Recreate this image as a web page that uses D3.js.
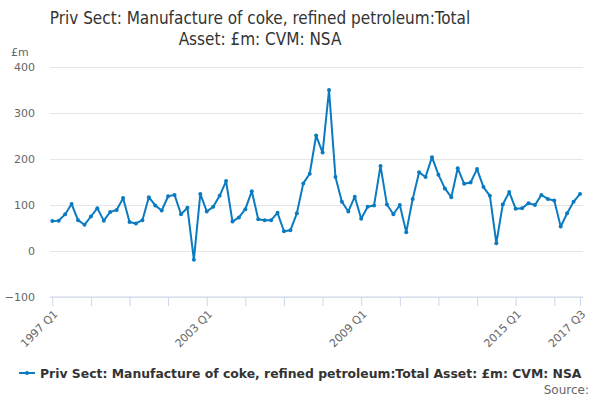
<!DOCTYPE html>
<html>
<head>
<meta charset="utf-8">
<script src="https://cdn.jsdelivr.net/npm/d3@7"></script>
<style>
  body { margin: 0; background: #fff; }
  svg { font-family: "DejaVu Sans", sans-serif; }
</style>
</head>
<body>
<svg id="chart" width="600" height="400"></svg>
<script>
const titleLines = ["Priv Sect: Manufacture of coke, refined petroleum:Total", "Asset: £m: CVM: NSA"];
const seriesName = "Priv Sect: Manufacture of coke, refined petroleum:Total Asset: £m: CVM: NSA";
const yTicks = [-100, 0, 100, 200, 300, 400];
const labelQuarters = ["1997 Q1", "2003 Q1", "2009 Q1", "2015 Q1", "2017 Q3"];

// quarterly values, 1997 Q1 .. 2017 Q3
const values = [
  65, 66, 80, 102, 67, 57, 75, 93, 66, 85, 89, 115,
  63, 60, 67, 117, 99, 88, 119, 122, 80, 94, -19, 124,
  86, 96, 120, 152, 64, 73, 91, 130, 69, 67, 67, 83,
  43, 45, 82, 147, 168, 251, 214, 350, 161, 107, 86, 118,
  70, 96, 99, 185, 101, 80, 100, 41, 113, 171, 161, 204,
  166, 136, 117, 180, 146, 149, 178, 139, 120, 17, 101, 128,
  92, 93, 104, 100, 122, 113, 110, 53, 82, 107, 124
];

const quarters = values.map((v, i) => (1997 + Math.floor(i / 4)) + " Q" + (i % 4 + 1));
const data = quarters.map((q, i) => ({ key: q, value: values[i] }));

const svg = d3.select("#chart");
const left = 50, right = 583;

const x = d3.scalePoint()
  .domain(quarters)
  .range([52.3, 580]);

const y = d3.scaleLinear()
  .domain([-100, 400])
  .range([297, 67]);

// title
svg.append("text")
  .attr("text-anchor", "middle")
  .attr("fill", "#333")
  .style("font-family", "'DejaVu Sans Condensed', 'DejaVu Sans', sans-serif")
  .style("font-size", "17px")
  .selectAll("tspan")
  .data(titleLines)
  .enter().append("tspan")
  .attr("x", 260)
  .attr("y", (d, i) => 24 + i * 21)
  .text(d => d);

// unit label
svg.append("text")
  .attr("x", 11)
  .attr("y", 56)
  .attr("fill", "#666")
  .style("font-size", "11px")
  .text("£m");

// grid + y labels
let yAxis = svg.append("g")
  .attr("transform", "translate(" + left + ",0)")
  .call(d3.axisLeft(y).tickValues(yTicks).tickSize(-(right - left)).tickPadding(15));
yAxis.select(".domain").remove();
yAxis.selectAll(".tick line").attr("stroke", "#e6e6e6");
yAxis.selectAll(".tick text")
  .attr("fill", "#666")
  .style("font-size", "11px")
  .style("font-family", "DejaVu Sans, sans-serif");

// x axis
const tickQuarters = quarters.filter((q, i) => i % 6 === 0 || i === quarters.length - 1);
let xAxis = svg.append("g")
  .attr("transform", "translate(0," + y(-100) + ")")
  .call(d3.axisBottom(x).tickValues(tickQuarters).tickSize(9)
    .tickFormat(d => labelQuarters.includes(d) ? d : ""));
xAxis.select(".domain")
  .attr("d", "M" + left + ",0H" + right)
  .attr("stroke", "#ccd6eb");
xAxis.selectAll(".tick line").attr("stroke", "#ccd6eb");
xAxis.selectAll(".tick text")
  .attr("fill", "#666")
  .style("font-size", "11px")
  .style("font-family", "DejaVu Sans, sans-serif")
  .attr("text-anchor", "end")
  .attr("x", 0)
  .attr("y", 0)
  .attr("dy", "0.35em")
  .attr("transform", "translate(3,15) rotate(-45)");

// line
const color = "#0b7bc1";
const line = d3.line()
  .x(d => x(d.key))
  .y(d => y(d.value));

svg.append("path")
  .datum(data)
  .attr("fill", "none")
  .attr("stroke", color)
  .attr("stroke-width", 2)
  .attr("stroke-linejoin", "round")
  .attr("d", line);

svg.append("g")
  .selectAll("circle")
  .data(data)
  .enter().append("circle")
  .attr("cx", d => x(d.key))
  .attr("cy", d => y(d.value))
  .attr("r", 2)
  .attr("fill", color);

// legend
let legend = svg.append("g").attr("transform", "translate(19,373)");
legend.append("line")
  .attr("x1", 0).attr("x2", 16)
  .attr("stroke", color).attr("stroke-width", 2);
legend.append("circle")
  .attr("cx", 8).attr("r", 2).attr("fill", color);
legend.append("text")
  .attr("x", 21)
  .attr("y", 4.5)
  .attr("fill", "#333")
  .style("font-size", "12.4px")
  .style("font-weight", "bold")
  .text(seriesName);

svg.append("text")
  .attr("x", 589)
  .attr("y", 394)
  .attr("text-anchor", "end")
  .attr("fill", "#666")
  .style("font-size", "12px")
  .text("Source:");
</script>
</body>
</html>
